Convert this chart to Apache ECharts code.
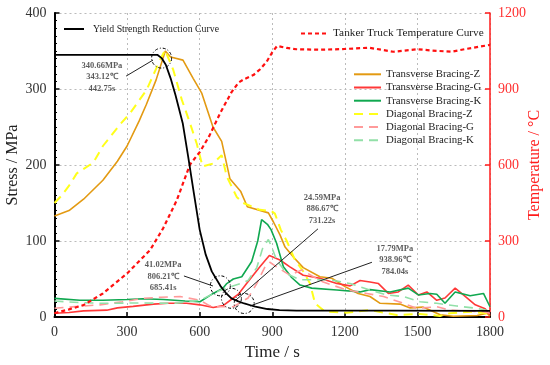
<!DOCTYPE html>
<html>
<head>
<meta charset="utf-8">
<script src="https://cdn.jsdelivr.net/npm/echarts@6/dist/echarts.min.js"></script>
<style>html,body{margin:0;padding:0;background:#fff}#c{width:550px;height:365px}</style>
</head>
<body>
<div id="c"></div>
<script>
// ---- data (time in s, stress in MPa, temperature in °C) ----
const xTicks = [0, 300, 600, 900, 1200, 1500, 1800];
const stressTicks = [0, 100, 200, 300, 400];
const tempTicks = [0, 300, 600, 900, 1200];

const yieldCurve = [[0,345],[300,345],[425,345],[442.75,340.66],[460,332],[480,314],[500,292],[530,255],[552,212],[575,165],[600,115],[625,82],[650,60],[685.41,41.02],[710,31],[731.22,24.59],[760,20.5],[784.04,17.79],[830,13.5],[880,10.5],[930,9],[1000,8.5],[1400,8.5],[1800,8]];
const tankerTemp = [[0,15],[60,30],[120,47],[200,93],[300,172],[395,264],[449,350],[505,460],[560,602],[601,652],[640,715],[685.41,806.21],[731.22,886.67],[760,925],[784.04,938.96],[822,955],[850,978],[877,1008],[900,1045],[920,1070],[960,1062],[1000,1057],[1100,1055],[1200,1058],[1300,1063],[1400,1047],[1500,1057],[1560,1052],[1640,1047],[1700,1058],[1800,1074]];
const transZ = [[0,133],[60,140],[120,155],[200,180],[260,205],[300,225],[350,258],[380,280],[420,312],[458,350],[480,342],[531,338],[573,314],[608,295],[655,250],[691,231],[725,182],[770,165],[797,145],[884,137],[905,125],[932,108],[953,92],[990,78],[1028,65],[1097,53],[1146,51],[1201,40],[1255,31],[1304,27],[1346,18],[1428,17],[1470,12],[1524,13],[1553,9],[1594,3],[1648,1],[1747,2],[1788,5],[1800,1]];
const transG = [[0,5],[60,6],[120,8],[216,9],[260,12],[325,14],[409,17],[470,18],[546,18],[601,16],[656,12.5],[697,15],[739,25],[760,30],[794,44],[849,66],[888,81],[932,75],[973,66],[1028,55],[1097,51],[1167,44],[1222,41],[1263,48],[1304,46],[1339,44],[1380,31],[1421,33],[1462,42],[1504,29],[1539,33],[1580,22],[1614,25],[1656,38],[1690,29],[1739,16],[1780,11],[1800,3]];
const transK = [[0,24.5],[105,22],[200,22],[300,23],[367,24],[450,23],[540,21],[601,20],[656,31],[697,38],[712,44],[739,50],[774,53],[815,73],[840,100],[856,128],[880,122],[895,115],[918,97],[946,66],[980,52],[1015,42],[1063,38],[1167,35.5],[1263,33],[1304,36],[1387,33],[1462,38],[1504,29],[1552,31],[1580,30],[1614,18],[1656,33],[1718,28],[1773,31],[1800,13.5]];
const diagZ = [[0,150],[30,160],[65,175],[92,189],[160,203],[200,225],[270,253],[312,268],[381,299],[436,338],[457,351],[491,325],[526,286],[560,255],[588,228],[612,198],[656,202],[691,213],[712,185],[753,158],[780,150],[849,141],[898,139],[911,136],[935,115],[960,100],[994,75],[1028,60],[1056,44],[1077,18],[1118,7],[1208,5.7],[1304,9],[1415,2.6],[1511,4],[1593,1.3],[1635,5],[1718,7],[1787,5],[1800,2]];
const diagG = [[0,11.5],[100,14],[188,16],[280,20],[367,24.6],[440,26],[519,27],[601,22],[640,15],[656,13.5],[739,13.5],[800,25],[836,44],[870,66],[890,72],[918,66],[973,55],[1022,62],[1070,53],[1111,46],[1208,35.5],[1290,31],[1360,27],[1442,18],[1497,11.4],[1580,13.5],[1635,9],[1690,8],[1773,7],[1800,5]];
const diagK = [[0,21],[100,19],[200,18],[350,18.5],[500,18],[601,22],[684,35],[767,44],[800,48],[836,65],[860,90],[884,102],[900,90],[918,75],[960,57],[1015,49],[1097,49],[1139,49],[1222,44],[1304,35.5],[1373,29],[1442,27],[1511,20],[1580,18],[1662,14.5],[1745,11.4],[1800,8]];

// annotations: circled points, label anchor and arrow ends (data coords)
const notePoints = [[442.75,340.66],[685.41,41.02],[731.22,24.59],[784.04,17.79]];
const noteTexts = ['340.66MPa\n343.12℃\n442.75s','41.02MPa\n806.21℃\n685.41s','24.59MPa\n886.67℃\n731.22s','17.79MPa\n938.96℃\n784.04s'];
const noteAnchors = [[196,316],[449,53],[1106,142],[1407,75]];
const arrowFrom = [[407,338],[655,40.8],[750,22.4],[808,14.5]];
const arrowTo = [[296,317],[535,54],[1089,116],[1312,72]];

const serif = 'Liberation Serif';
const chart = echarts.init(document.getElementById('c'), null, {renderer:'canvas'});

function lineSeries(name, data, color, type, width, yIdx) {
  return {name, type:'line', data, yAxisIndex:yIdx||0, symbol:'none', smooth:false,
    lineStyle:{color, width:width||1.5, type:type||'solid'}, itemStyle:{color}, z:3};
}

const series = [
  lineSeries('Transverse Bracing-Z', transZ, '#E39A12', 'solid', 1.6),
  lineSeries('Transverse Bracing-G', transG, '#FF3838', 'solid', 1.6),
  lineSeries('Transverse Bracing-K', transK, '#10A850', 'solid', 1.6),
  lineSeries('Diagonal Bracing-Z', diagZ, '#FFFF1A', [9,6], 2),
  lineSeries('Diagonal Bracing-G', diagG, '#FF9A9A', [9,6], 1.6),
  lineSeries('Diagonal Bracing-K', diagK, '#92E0A8', [9,6], 1.6),
  lineSeries('Tanker Truck Temperature Curve', tankerTemp, '#FF1010', [4,3], 2.2, 1),
  Object.assign(lineSeries('Yield Strength Reduction Curve', yieldCurve, '#000000', 'solid', 1.8), {
    z:5,
    markPoint:{symbol:'circle', symbolSize:20, silent:true, animation:false,
      itemStyle:{color:'rgba(0,0,0,0)', borderColor:'#000', borderWidth:1, borderType:[3,2,1,2]},
      label:{show:false},
      data: notePoints.map(p=>({coord:p}))},
    markLine:{silent:true, animation:false, symbol:['none','arrow'], symbolSize:[0,7],
      lineStyle:{color:'#222', width:1, type:'solid'}, label:{show:false},
      data: arrowFrom.map((a,i)=>[{coord:a},{coord:arrowTo[i]}])}
  }),
  {name:'notes', type:'scatter', symbolSize:0, z:6, silent:true,
    data: noteAnchors.map((p,i)=>({value:p, text:noteTexts[i]})),
    label:{show:true, position:'inside', formatter:p=>p.data.text, fontFamily:serif, fontSize:8.5, fontWeight:'bold', color:'#333', lineHeight:11.5, align:'center'}}
];

const noSym = {opacity:0};
const axisLabelStyle = {fontFamily:serif, fontSize:14, color:'#333', formatter:v=>String(v)};
const option = {
  animation:false,
  backgroundColor:'#fff',
  grid:{left:54.5, right:60, top:13, bottom:48, containLabel:false, outerBoundsMode:'none'},
  legend:[
    {data:['Yield Strength Reduction Curve'], left:63, top:24, padding:0, itemWidth:20, itemHeight:10, itemGap:0, itemStyle:noSym,
      textStyle:{fontFamily:serif, fontSize:9.8, color:'#222', padding:[0,0,0,4]}},
    {data:['Tanker Truck Temperature Curve'], left:300, top:28, padding:0, itemWidth:25, itemHeight:10, itemStyle:noSym,
      textStyle:{fontFamily:serif, fontSize:11.3, color:'#222', padding:[0,0,0,2]}},
    {data:['Transverse Bracing-Z','Transverse Bracing-G','Transverse Bracing-K','Diagonal Bracing-Z','Diagonal Bracing-G','Diagonal Bracing-K'],
      orient:'vertical', left:353, top:68.3, padding:0, itemWidth:27, itemHeight:12, itemGap:1.2, itemStyle:noSym,
      textStyle:{fontFamily:serif, fontSize:10.8, lineHeight:12, color:'#222', padding:[0,0,0,0]}}
  ],
  xAxis:{type:'value', min:xTicks[0], max:xTicks[xTicks.length-1], interval:300,
    name:'Time / s', nameLocation:'middle', nameGap:27, nameMoveOverlap:false, nameTextStyle:{fontFamily:serif, fontSize:17, color:'#222'},
    axisLine:{show:true, onZero:false, lineStyle:{color:'#000', width:2}},
    axisTick:{show:true, inside:true, length:5, lineStyle:{color:'#000', width:1.5}},
    axisLabel:Object.assign({margin:8}, axisLabelStyle),
    splitLine:{show:true, lineStyle:{color:'#bbb', type:[2,3], width:1}}},
  yAxis:[
    {type:'value', min:stressTicks[0], max:stressTicks[stressTicks.length-1], interval:100, position:'left',
      name:'Stress / MPa', nameLocation:'middle', nameGap:34, nameRotate:90, nameMoveOverlap:false, nameTextStyle:{fontFamily:serif, fontSize:16, color:'#222'},
      axisLine:{show:true, onZero:false, lineStyle:{color:'#000', width:2}},
      axisTick:{show:true, inside:true, length:5, lineStyle:{color:'#000', width:1.5}},
      minorTick:{show:true, splitNumber:10, length:2.5, lineStyle:{color:'#000'}},
      axisLabel:Object.assign({margin:8}, axisLabelStyle),
      splitLine:{show:true, lineStyle:{color:'#bbb', type:[2,3], width:1}}},
    {type:'value', min:tempTicks[0], max:tempTicks[tempTicks.length-1], interval:300, position:'right',
      name:'Temperature / °C', nameLocation:'middle', nameGap:37, nameRotate:90, nameMoveOverlap:false, nameTextStyle:{fontFamily:serif, fontSize:16, color:'#FF1A1A'},
      axisLine:{show:true, onZero:false, lineStyle:{color:'#FF1A1A', width:1.5}},
      axisTick:{show:true, inside:true, length:5, lineStyle:{color:'#FF1A1A', width:1.5}},
      axisLabel:{margin:8, fontFamily:serif, fontSize:14, color:'#FF3030', formatter:v=>String(v)},
      splitLine:{show:false}}
  ],
  series
};
chart.setOption(option);
</script>
</body>
</html>
